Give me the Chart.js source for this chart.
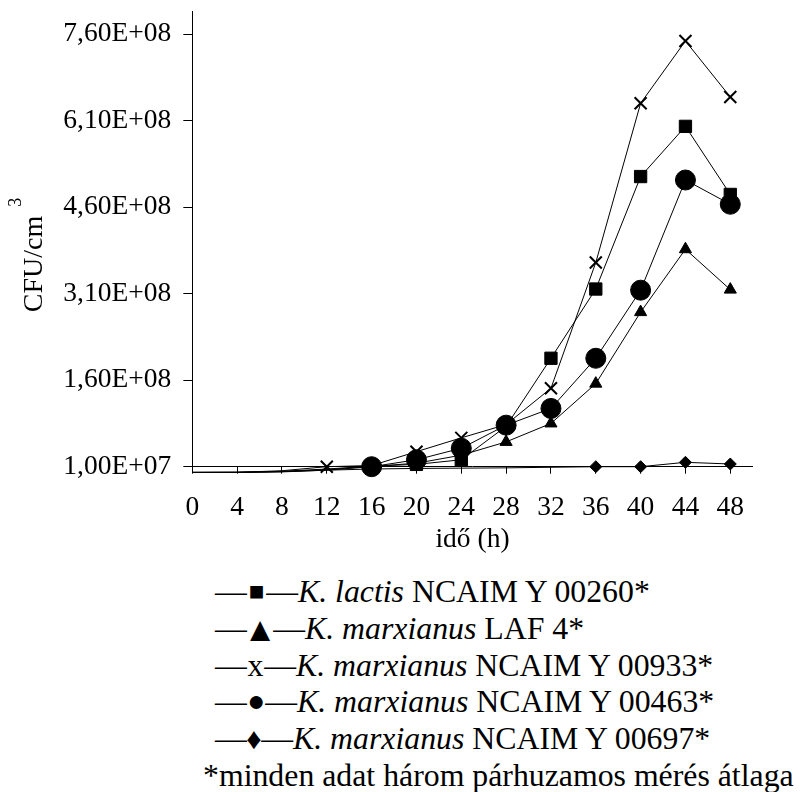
<!DOCTYPE html>
<html>
<head>
<meta charset="utf-8">
<title>CFU/cm3 – idő</title>
<script src="https://cdn.jsdelivr.net/npm/chart.js@4.4.1/dist/chart.umd.min.js"></script>
<style>
    html, body { margin: 0; padding: 0; background: #fff; }
    body {
        width: 800px; height: 792px; position: relative; overflow: hidden;
        font-family: 'Liberation Serif', 'Times New Roman', serif; color: #000;
    }
    #chart { position: absolute; left: 0; top: 0; }
    #legend {
        position: absolute; left: 215px; top: 574.4px;
        font-size: 31.8px; line-height: 36.7px; white-space: nowrap;
    }
    #legend > div { height: 36.7px; }
    #legend .note { margin-left: -12px; }
    #legend .mk {
        display: inline-flex; justify-content: center; line-height: 0;
    }
</style>
</head>
<body>
<canvas id="chart" width="800" height="560"></canvas>
<div id="legend"></div>

<script>
// Sampling times (h)
const hours = [0, 4, 8, 12, 16, 20, 24, 28, 32, 36, 40, 44, 48];

// CFU/cm3 per strain
const lactis00260 = [1e5, 2e5, 2e6, 6e6, 1.1e7, 1.4e7, 2.2e7, 8.0e7, 1.98e8, 3.18e8, 5.13e8, 6.0e8, 4.82e8];
const marxLaf4 = [1e5, 2e5, 1.5e6, 5e6, 1.05e7, 1.6e7, 3.0e7, 5.3e7, 8.5e7, 1.54e8, 2.78e8, 3.87e8, 3.17e8];
const marx00933 = [1e5, 3e5, 3e6, 1.0e7, 1.2e7, 3.6e7, 6.0e7, 8.3e7, 1.46e8, 3.64e8, 6.40e8, 7.48e8, 6.51e8];
const marx00463 = [1e5, 2e5, 1e6, 4e6, 1.0e7, 2.2e7, 4.2e7, 8.2e7, 1.11e8, 1.98e8, 3.16e8, 5.07e8, 4.65e8];
const marx00697 = [1e5, 2e5, 1.5e6, 4e6, 6e6, 7e6, 7.5e6, 8e6, 9e6, 1.0e7, 1.0e7, 1.76e7, 1.47e7];

// Legend / dataset names
const species = ['K. lactis', 'K. marxianus', 'K. marxianus', 'K. marxianus', 'K. marxianus'];
const strains = ['NCAIM Y 00260*', 'LAF 4*', 'NCAIM Y 00933*', 'NCAIM Y 00463*', 'NCAIM Y 00697*'];
const legendGlyphs = ['■', '▲', 'x', '●', '♦'];
const footnote = '*minden adat három párhuzamos mérés átlaga';

// Axis ticks
const xTicks = hours;
const yTickValues = [1e7, 1.6e8, 3.1e8, 4.6e8, 6.1e8, 7.6e8];
const yTickLabels = ['1,00E+07', '1,60E+08', '3,10E+08', '4,60E+08', '6,10E+08', '7,60E+08'];
const xTitle = 'idő (h)';
const yTitle = 'CFU/cm';
const yTitleSup = '3';

const Y_MIN = 1e7;
const Y_MAX = 8e8;
const FONT = "'Liberation Serif', 'Times New Roman', serif";

// marker look per series
const markerStyles = [
    { style: 'rect', radius: 8.7, lw: 1 },
    { style: 'triangle', radius: 7, lw: 1 },
    { style: 'crossRot', radius: 8.5, lw: 2 },
    { style: 'circle', radius: 10, lw: 1 },
    { style: 'rectRot', radius: 6, lw: 1 }
];
// legend glyph box: width, font size, vertical shift
const glyphCss = [
    'width:19.4px;font-size:26px;vertical-align:2px;',
    'width:26.4px;font-size:34px;vertical-align:-2px;',
    'width:17.4px;font-size:31.8px;vertical-align:0px;',
    'width:18.4px;font-size:30px;vertical-align:1px;',
    'width:14.4px;font-size:30px;vertical-align:0px;'
];

const seriesValues = [lactis00260, marxLaf4, marx00933, marx00463, marx00697];

const datasets = seriesValues.map((vals, i) => {
    const m = markerStyles[i];
    return {
        label: species[i] + ' ' + strains[i],
        data: hours.map((h, j) => ({ x: h, y: vals[j] })),
        borderColor: '#000',
        borderWidth: 1,
        backgroundColor: '#000',
        pointStyle: m.style,
        // values below the axis start get no marker, only the line
        pointRadius: ctx => (ctx.parsed && ctx.parsed.y >= Y_MIN ? m.radius : 0),
        pointHoverRadius: ctx => (ctx.parsed && ctx.parsed.y >= Y_MIN ? m.radius : 0),
        pointBackgroundColor: '#000',
        pointBorderColor: '#000',
        pointBorderWidth: m.lw,
        tension: 0,
        clip: false,
        order: -i
    };
});

// rotated y title with superscript
const yTitlePlugin = {
    id: 'yTitle',
    afterDraw(chart) {
        const c = chart.ctx;
        c.save();
        c.translate(41.7, 264);
        c.rotate(-Math.PI / 2);
        c.fillStyle = '#000';
        c.font = '28px ' + FONT;
        c.textAlign = 'center';
        c.textBaseline = 'alphabetic';
        c.fillText(yTitle, 0, 0);
        const w = c.measureText(yTitle).width;
        c.font = '18px ' + FONT;
        c.textAlign = 'left';
        c.fillText(yTitleSup, w / 2 + 9, -21);
        c.restore();
    }
};

const tickFont = { family: FONT, size: 27.5 };

new Chart(document.getElementById('chart'), {
    type: 'line',
    data: { datasets: datasets },
    plugins: [yTitlePlugin],
    options: {
        responsive: false,
        animation: false,
        layout: { padding: { left: 0, top: 10.6, right: 47.3, bottom: 0 } },
        plugins: {
            legend: { display: false },
            tooltip: { enabled: false }
        },
        scales: {
            x: {
                type: 'linear',
                min: 0,
                max: 50,
                grid: { display: true, drawOnChartArea: false, color: '#000', tickLength: 7, tickWidth: 1 },
                border: { display: true, color: '#000', width: 1 },
                ticks: {
                    font: tickFont,
                    color: '#000',
                    padding: 18,
                    maxRotation: 0,
                    autoSkip: false,
                    callback: value => String(value)
                },
                title: {
                    display: true,
                    text: xTitle,
                    font: tickFont,
                    color: '#000',
                    padding: { top: 0, bottom: 3.5 }
                },
                afterBuildTicks: scale => {
                    scale.ticks = xTicks.map(v => ({ value: v }));
                },
                afterFit: scale => {
                    scale.height = 93.3;
                    scale.paddingLeft = 0;
                    scale.paddingRight = 0;
                }
            },
            y: {
                type: 'linear',
                min: Y_MIN,
                max: Y_MAX,
                grid: { display: true, drawOnChartArea: false, color: '#000', tickLength: 9, tickWidth: 1 },
                border: { display: true, color: '#000', width: 1 },
                ticks: {
                    font: tickFont,
                    color: '#000',
                    padding: 12,
                    autoSkip: false,
                    callback: (value, index) => yTickLabels[index]
                },
                afterBuildTicks: scale => {
                    scale.ticks = yTickValues.map(v => ({ value: v }));
                },
                afterFit: scale => {
                    scale.width = 192.3;
                    scale.paddingTop = 0;
                    scale.paddingBottom = 0;
                }
            }
        }
    }
});

// Legend rows below the plot
const legend = document.getElementById('legend');
species.forEach((sp, i) => {
    const row = document.createElement('div');
    row.innerHTML = '—<span class="mk" style="' + glyphCss[i] + '">' + legendGlyphs[i] + '</span>—' +
        '<i>' + sp + '</i> ' + strains[i];
    legend.appendChild(row);
});
const note = document.createElement('div');
note.className = 'note';
note.textContent = footnote;
legend.appendChild(note);
</script>
</body>
</html>
